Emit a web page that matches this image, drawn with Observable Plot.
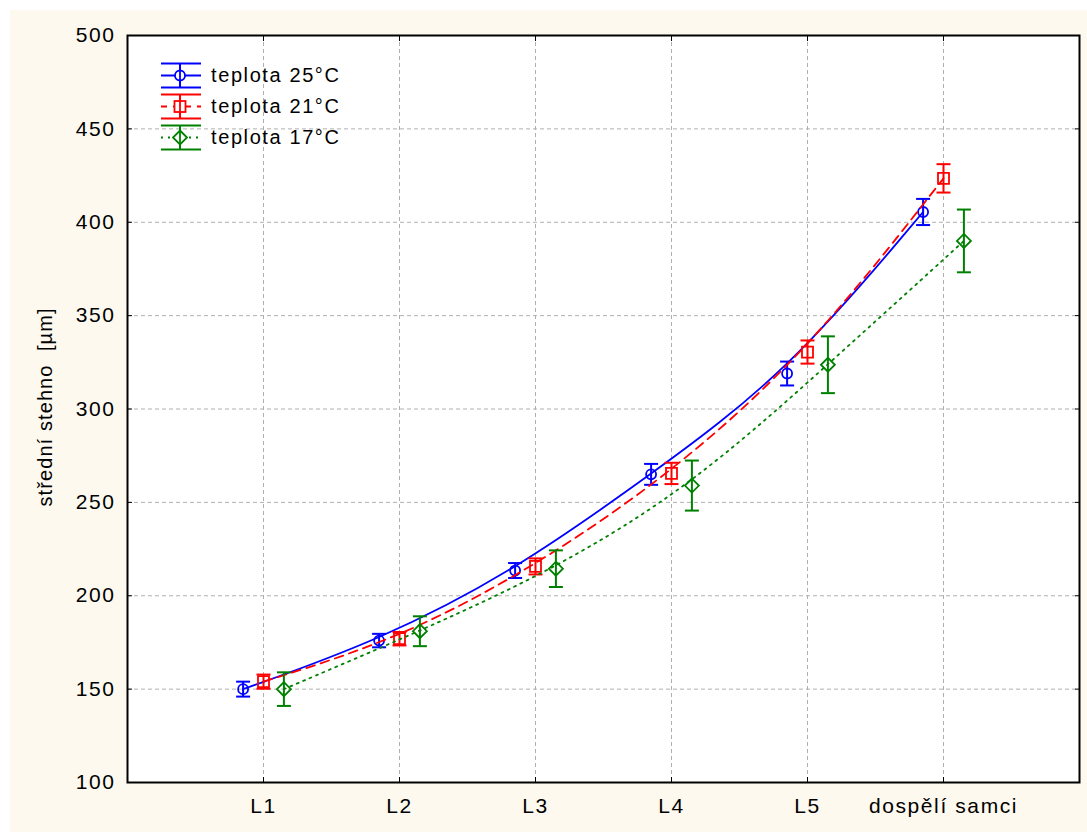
<!DOCTYPE html>
<html>
<head>
<meta charset="utf-8">
<script src="https://cdn.jsdelivr.net/npm/d3@7"></script>
<script src="https://cdn.jsdelivr.net/npm/@observablehq/plot@0.6"></script>
<style>
  body { margin: 0; background: #ffffff; font-family: "Liberation Sans", Arial, sans-serif; }
  #wrap { position: absolute; left: 10px; top: 10px; width: 1077px; height: 822px; background: #fdf9ef; }
  #wrap svg text { letter-spacing: 1.6px; }
  #wrap svg text.ylab { letter-spacing: 1.1px; }
  #legend { position: absolute; left: 150px; top: 50px; }
  .row { position: relative; height: 31px; display: flex; align-items: center; }
  .row svg { display: block; }
  .row span { font-size: 20px; margin-left: 9px; color: #000; letter-spacing: 1.6px; }
</style>
</head>
<body>
<div id="wrap"><div id="legend"></div></div>
<script>
const stages = ["L1", "L2", "L3", "L4", "L5", "dospělí samci"];
const yTicks = [100, 150, 200, 250, 300, 350, 400, 450, 500];
const seriesNames = ["teplota 25°C", "teplota 21°C", "teplota 17°C"];
const mean25 = [150, 176, 213.5, 265, 319, 405.5];
const err25  = [4, 3.6, 4, 5.6, 6.4, 7];
const mean21 = [154, 177, 215.7, 265.5, 330.5, 423.5];
const err21  = [3.8, 3.6, 4.3, 5.7, 6.2, 7.6];
const mean17 = [150, 181, 214.5, 259, 323.7, 390];
const err17  = [9, 8, 9.8, 13.4, 15.2, 16.8];

const colors = ["#0000ff", "#ff0000", "#008000"];
const dashes = [null, "9,6", "2,5"];
const offsets = [-0.15, 0, 0.15];
const means = [mean25, mean21, mean17];
const errs = [err25, err21, err17];

const rows = [];
seriesNames.forEach((name, s) => {
  stages.forEach((st, i) => {
    rows.push({series: name, s, x: i + 1 + offsets[s], mean: means[s][i], lo: means[s][i] - errs[s][i], hi: means[s][i] + errs[s][i]});
  });
});

const capSymbol = {draw(ctx) { const w = 7; ctx.moveTo(-w, 0); ctx.lineTo(w, 0); }};
const dSym = {draw(ctx) { const r = 7; ctx.moveTo(0, -r); ctx.lineTo(r, 0); ctx.lineTo(0, r); ctx.lineTo(-r, 0); ctx.closePath(); }};
const sSym = {draw(ctx) { const r = 5.5; ctx.rect(-r, -r, 2 * r, 2 * r); }};
const cSym = {draw(ctx) { const r = 5; ctx.moveTo(r, 0); ctx.arc(0, 0, r, 0, 2 * Math.PI); }};
const symObjs = [cSym, sSym, dSym];

const marks = [
  Plot.frame({fill: "white", stroke: null}),
  Plot.gridY(yTicks, {stroke: "#b0b0b0", strokeOpacity: 1, strokeDasharray: "4,3"}),
  Plot.gridX([1, 2, 3, 4, 5, 6], {stroke: "#b0b0b0", strokeOpacity: 1, strokeDasharray: "4,3"}),
];
seriesNames.forEach((name, s) => {
  const d = rows.filter(r => r.s === s);
  marks.push(
    Plot.line(d, {x: "x", y: "mean", curve: "basis", stroke: colors[s], strokeWidth: 1.8, strokeDasharray: dashes[s]}),
    Plot.ruleX(d, {x: "x", y1: "lo", y2: "hi", stroke: colors[s], strokeWidth: 2}),
    Plot.dot(d, {x: "x", y: "lo", symbol: capSymbol, stroke: colors[s], strokeWidth: 2, r: 5}),
    Plot.dot(d, {x: "x", y: "hi", symbol: capSymbol, stroke: colors[s], strokeWidth: 2, r: 5}),
    Plot.dot(d, {x: "x", y: "mean", symbol: symObjs[s], stroke: colors[s], strokeWidth: 1.8, fill: "none", r: 5}),
  );
});
marks.push(
  Plot.axisY({ticks: yTicks, anchor: "left", tickSize: -5, tickPadding: 17, fontSize: 21, label: null}),
  Plot.axisY({ticks: yTicks, anchor: "right", tickSize: -5, tickFormat: () => "", label: null}),
  Plot.axisX({ticks: [1, 2, 3, 4, 5, 6], anchor: "bottom", tickSize: -5, tickPadding: 21, fontSize: 21, label: null, tickFormat: i => stages[i - 1]}),
  Plot.axisX({ticks: [1, 2, 3, 4, 5, 6], anchor: "top", tickSize: -5, tickFormat: () => "", label: null}),
  Plot.frame({stroke: "black", strokeWidth: 2}),
  Plot.text(["střední stehno  [µm]"], {frameAnchor: "left", textAnchor: "middle", dx: -82, dy: -2, rotate: -90, fontSize: 20, fill: "black", className: "ylab"})
);

const chart = Plot.plot({
  width: 1077,
  height: 822,
  marginLeft: 117,
  marginTop: 25,
  marginRight: 8,
  marginBottom: 50,
  style: {background: "transparent", fontFamily: "Liberation Sans, Arial, sans-serif", color: "black", overflow: "visible"},
  x: {domain: [0, 7], axis: null},
  y: {domain: [100, 500], axis: null},
  marks
});
document.getElementById("wrap").appendChild(chart);
chart.querySelectorAll("g[aria-label='text'] text").forEach(t => t.classList.add("ylab"));

// legend
const legend = document.getElementById("legend");
seriesNames.forEach((name, s) => {
  const row = document.createElement("div");
  row.className = "row";
  const c = colors[s];
  const dash = dashes[s] ? `stroke-dasharray="${s === 1 ? '6,6' : '2,5'}"` : "";
  let sym;
  if (s === 0) sym = `<circle cx="20" cy="15.5" r="5" fill="white" stroke="${c}" stroke-width="1.8"/>`;
  else if (s === 1) sym = `<rect x="14.5" y="10" width="11" height="11" fill="white" stroke="${c}" stroke-width="1.8"/>`;
  else sym = `<path d="M20,8.5 L27,15.5 L20,22.5 L13,15.5 Z" fill="white" stroke="${c}" stroke-width="1.8"/>`;
  row.innerHTML = `<svg width="42" height="31" viewBox="0 0 42 31">
    <line x1="1" x2="41" y1="3.5" y2="3.5" stroke="${c}" stroke-width="2"/>
    <line x1="1" x2="41" y1="27.5" y2="27.5" stroke="${c}" stroke-width="2"/>
    <line x1="20" x2="20" y1="3.5" y2="27.5" stroke="${c}" stroke-width="2"/>
    <line x1="1" x2="41" y1="15.5" y2="15.5" stroke="${c}" stroke-width="2" ${dash}/>
    ${sym}
    <line x1="20" x2="20" y1="10" y2="21" stroke="${c}" stroke-width="1.8"/>
  </svg><span>${name}</span>`;
  legend.appendChild(row);
});
</script>
</body>
</html>
